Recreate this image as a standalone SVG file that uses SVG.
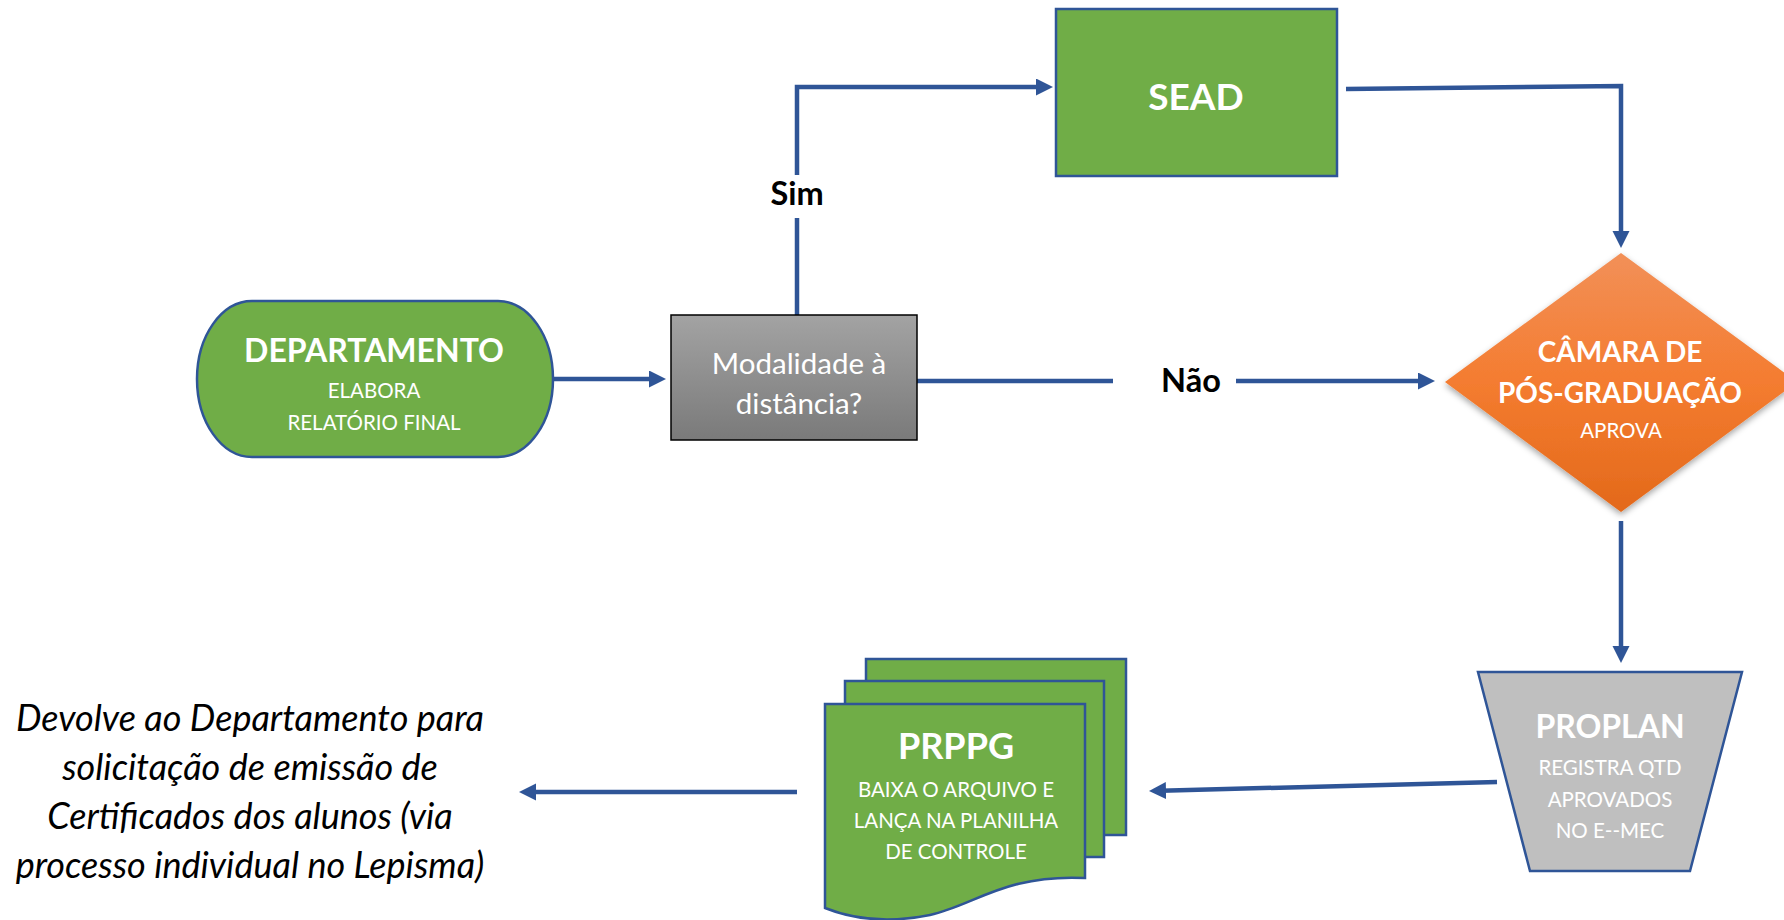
<svg xmlns="http://www.w3.org/2000/svg" width="1784" height="920" viewBox="0 0 1784 920">
<style>
.t{font-family:Lato,"Open Sans","Liberation Sans",sans-serif;fill:#fff;text-anchor:middle}
.b{font-weight:bold}
.title{font-size:32px;font-weight:bold}
.sub{font-size:20.5px}
.lbl{font-family:Lato,"Open Sans","Liberation Sans",sans-serif;font-size:32.5px;font-weight:bold;fill:#000;text-anchor:middle}
.note{font-family:Lato,"Open Sans","Liberation Sans",sans-serif;font-size:36px;font-style:italic;fill:#000;text-anchor:middle}
.green{fill:#70AD47;stroke:#2F5597;stroke-width:2.5}
.con{fill:none;stroke:#2F5597;stroke-width:4.5}
</style>
<defs>
<marker id="arr" markerUnits="userSpaceOnUse" markerWidth="18" markerHeight="18" refX="5" refY="8.5" orient="auto">
<path d="M0,0 L17,8.5 L0,17 Z" fill="#2F5597"/>
</marker>
<linearGradient id="gray" x1="0" y1="0" x2="0" y2="1">
<stop offset="0" stop-color="#A3A3A3"/>
<stop offset="1" stop-color="#7A7A7A"/>
</linearGradient>
<linearGradient id="orange" x1="0" y1="0" x2="0" y2="1">
<stop offset="0" stop-color="#F29058"/>
<stop offset="0.5" stop-color="#F47C30"/>
<stop offset="1" stop-color="#E3691A"/>
</linearGradient>
<filter id="sh" x="-20%" y="-20%" width="140%" height="140%">
<feDropShadow dx="0" dy="3" stdDeviation="3" flood-color="#000" flood-opacity="0.35"/>
</filter>
</defs>

<g id="connectors">
<path class="con" d="M553,379 L654,379" marker-end="url(#arr)"/>
<path class="con" d="M797,315 L797,218"/>
<path class="con" d="M797,175 L797,87 L1041,87" marker-end="url(#arr)"/>
<path class="con" d="M917,381 L1113,381"/>
<path class="con" d="M1236,381 L1423,381" marker-end="url(#arr)"/>
<path class="con" d="M1346,89 L1621,86 L1621,236" marker-end="url(#arr)"/>
<path class="con" d="M1621,521 L1621,651" marker-end="url(#arr)"/>
<path class="con" d="M1497,782 L1161,790.7" marker-end="url(#arr)"/>
<path class="con" d="M797,792 L531,792" marker-end="url(#arr)"/>
<text class="lbl" x="797" y="205">Sim</text>
<text class="lbl" x="1191" y="392">Não</text>
</g>

<g id="departamento">
<path class="green" d="M252,301 L498,301 A55,78 0 0 1 498,457 L252,457 A55,78 0 0 1 252,301 Z"/>
<text class="t title" x="374" y="362">DEPARTAMENTO</text>
<text class="t sub" x="374" y="398">ELABORA</text>
<text class="t sub" x="374" y="430">RELATÓRIO FINAL</text>
</g>

<g id="modalidade">
<rect x="671" y="315" width="246" height="125" fill="url(#gray)" stroke="#000" stroke-width="1.5"/>
<text class="t" style="font-size:29.5px" x="799" y="374">Modalidade à</text>
<text class="t" style="font-size:29.5px" x="799" y="414">distância?</text>
</g>

<g id="sead">
<rect class="green" x="1056" y="9" width="281" height="167"/>
<text class="t b" style="font-size:37px" x="1196" y="110">SEAD</text>
</g>

<g id="camara">
<polygon points="1621,253 1797,382 1621,512 1445,382" fill="url(#orange)" filter="url(#sh)"/>
<text class="t" style="font-size:28px;font-weight:bold" x="1620" y="362">CÂMARA DE</text>
<text class="t" style="font-size:28px;font-weight:bold" x="1620" y="403">PÓS-GRADUAÇÃO</text>
<text class="t sub" x="1621" y="438">APROVA</text>
</g>

<g id="proplan">
<polygon points="1478,672 1742,672 1690,871 1530,871" fill="#BFBFBF" stroke="#2F5597" stroke-width="2.5"/>
<text class="t title" x="1610" y="738">PROPLAN</text>
<text class="t sub" x="1610" y="775">REGISTRA QTD</text>
<text class="t sub" x="1610" y="807">APROVADOS</text>
<text class="t sub" x="1610" y="838">NO E--MEC</text>
</g>

<g id="prppg">
<rect class="green" x="866" y="659" width="260" height="176"/>
<rect class="green" x="845" y="681" width="259" height="176"/>
<path class="green" d="M825,704 L1085,704 L1085,878 C1005,874 975,905 930,915 C890,923 855,920 825,908 Z"/>
<text class="t b" style="font-size:36px" x="956" y="759">PRPPG</text>
<text class="t sub" x="956" y="797">BAIXA O ARQUIVO E</text>
<text class="t sub" x="956" y="828">LANÇA NA PLANILHA</text>
<text class="t sub" x="956" y="859">DE CONTROLE</text>
</g>

<g id="note">
<text class="note" x="250" y="731">Devolve ao Departamento para</text>
<text class="note" x="250" y="780">solicitação de emissão de</text>
<text class="note" x="250" y="829">Certificados dos alunos (via</text>
<text class="note" x="250" y="878">processo individual no Lepisma)</text>
</g>
</svg>
